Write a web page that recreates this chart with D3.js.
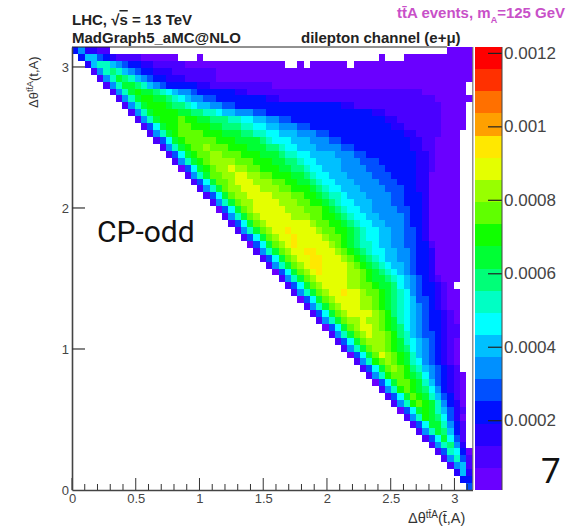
<!DOCTYPE html>
<html>
<head>
<meta charset="utf-8">
<script src="https://d3js.org/d3.v7.min.js"></script>
<style>
  body { margin: 0; background: white; }
  text { font-family: "Liberation Sans", sans-serif; }
</style>
</head>
<body>
<svg id="vis"></svg>
<script>
  // Data Setup
  // one string per row of the histogram, top row first, each starting on the diagonal cell
  // every char is the colour band (base 36), '.' = empty bin
  var rowLevels = [
    '352211......................................................0000',
    '3664321111000000...0............................0...00000000000',
    '26886543322111110000000000000000..0.000000.0000000000000000000',
    '1589865433222111111100000000000000000000000000000000000000000',
    '158a98654332221111100000000000000000000000000000000000000000',
    '158aa9865433333221111111111' + '0000000000000000000000000000000',
    '158abaa9876554333333221111111111111111111111111111' + '0000000',
    '158abbaa9876554433333333221111111111111111111111111' + '000000',
    '158abbba99876655443333333333333333322' + '111111111111110000',
    '158abbbbaa9988766555443333333333333333322' + '1111111110000',
    '158abbbcbbaa9998877665544333333333333333221111111' + '0000',
    '147abbccbbbaa99988776655544333333333333322111111' + '0000',
    '158abccccbbbaaa99887766655544333333333333221111' + '000',
    '147abcccccbbbaaaa9877766655544333333333332211' + '0000',
    '158abccdcccbbbaaa99877666555544333333333' + '22110000',
    '147abccddcccbbbaaa988776666555443333333322' + '10000',
    '158abcddddcccbbbaa998776666555444333333' + '2210000',
    '047abcddeddccbbbaa99877666555544433333' + '2210000',
    '158accddeeddccbbbaa987766655554443333' + '2200000',
    '147accdeeedddccbbaa98776665555444333' + '2200000',
    '158acddeeedddccbbba98776665555444' + '332200000',
    '147acddeeeedddccbba9887666555544' + '333200000',
    '158acddeeeedddccbba987766655544' + '333200000',
    '047acdeeeeedddcccba987766555544' + '33200000',
    '158acdeeeeedddccbba98776655554' + '33200000',
    '147acdeeeeeeedccbba9877665554332' + '00000',
    '158acdeefeeeedccbba987766554432' + '00000',
    '147acdeefeeeedccba987766554432' + '00000',
    '047acdefeeeeedcba9887665544331' + '0000',
    '158acdeeffeeedcba987766554332' + '0000',
    '147acdeeffeeedcba98766554332' + '0000',
    '158acdeffeeeedcba9876654332' + '0000',
    '047acdefeeeeddcba987654332' + '0000',
    '158acdeeeeeddcbaa987654321000',
    '147acdeeeeddccbaa9765433210.',
    '158acdeefeedccba98754332100',
    '047acdeeeeddcba98764432100',
    '158acdeeeddcba98765432100',
    '147acdeeeedcb98765433210',
    '158acddeddcba8765433210',
    '047acdeedcba9765433211',
    '158acdeddcb9865443211',
    '147acdddcba876543210',
    '158acddcba976543210',
    '047acedcba86543210',
    '158bcdcba87543210',
    '147acdcb98654321',
    '158bccba97543210',
    '047accba8643210',
    '158bcba9753210',
    '147acba864310',
    '158bcba85320',
    '047aba86421',
    '158ba97420',
    '147aa8531',
    '158a9631',
    '147a741',
    '158952',
    '148730',
    '15841',
    '1561',
    '262',
    '33',
    '4'
  ];

  var xTickValues = [0, 0.5, 1, 1.5, 2, 2.5, 3];
  var xMinorValues = [0.1, 0.2, 0.3, 0.4, 0.6, 0.7, 0.8, 0.9, 1.1, 1.2, 1.3, 1.4, 1.6, 1.7, 1.8, 1.9, 2.1, 2.2, 2.3, 2.4, 2.6, 2.7, 2.8, 2.9, 3.1];
  var yTickValues = [0, 1, 2, 3];
  var zTickValues = [0.0002, 0.0004, 0.0006, 0.0008, 0.001, 0.0012];
  var zRange = [0.00001, 0.001216];

  var bandColors = ['#6a00ff', '#4a00ff', '#2600ff', '#0010ff', '#0050ff', '#0090ff', '#00c0ff', '#00ffff', '#00ffc4', '#00ff78',
                    '#00ff34', '#10ff00', '#60ff00', '#98ff00', '#e4ff00', '#ffe800', '#ffa000', '#ff7000', '#ff3000', '#ff0000'];

  // SVG Setup
  var svg = d3.select('#vis')
    .attr('width', 566)
    .attr('height', 526);

  var xscale = d3.scaleLinear().domain([0, Math.PI]).range([72, 472.5]);
  var yscale = d3.scaleLinear().domain([0, Math.PI]).range([490, 47]);
  var colBand = d3.scaleBand().domain(d3.range(64)).range([72, 472.5]);
  var rowBand = d3.scaleBand().domain(d3.range(64)).range([47, 490]);
  var color = d3.scaleQuantize().domain(zRange).range(bandColors);
  var zscale = d3.scaleLinear().domain(zRange).range([490, 47]);

  // turn the band chars into bin contents
  var zStep = (zRange[1] - zRange[0]) / bandColors.length;
  var cells = [];
  rowLevels.forEach(function(row, r) {
    row.split('').forEach(function(ch, k) {
      if (ch == '.') return;
      cells.push({ col: r + k, row: r, value: zRange[0] + (parseInt(ch, 36) + 0.5) * zStep });
    });
  });

  // Histogram cells
  svg.append('g')
    .attr('shape-rendering', 'crispEdges')
    .style('filter', 'blur(0.4px)')
    .selectAll('rect')
    .data(cells)
    .enter().append('rect')
    .attr('x', function(d) { return colBand(d.col) })
    .attr('y', function(d) { return rowBand(d.row) })
    .attr('width', colBand.bandwidth())
    .attr('height', rowBand.bandwidth())
    .attr('fill', function(d) { return color(d.value) });

  // Frame
  svg.append('line').attr('x1', 72).attr('x2', 447).attr('y1', 47).attr('y2', 47).attr('stroke', '#222').attr('stroke-width', 1);
  svg.append('line').attr('x1', 472.8).attr('x2', 472.8).attr('y1', 47).attr('y2', 490).attr('stroke', '#777').attr('stroke-width', 1.2);

  // X axis
  var xAxis = svg.append('g')
    .attr('transform', 'translate(0,490)')
    .call(d3.axisBottom(xscale).tickValues(xTickValues).tickSize(0).tickPadding(4).tickFormat(d3.format('')));
  xAxis.select('.domain').attr('stroke', '#444').attr('stroke-width', 1.6);
  xAxis.selectAll('text').attr('fill', '#444').style('font-size', '13px');
  svg.selectAll('line.xmajor').data(xTickValues).enter().append('line').attr('class', 'xmajor')
    .attr('x1', xscale).attr('x2', xscale).attr('y1', 490).attr('y2', 478).attr('stroke', '#333');
  svg.selectAll('line.xminor').data(xMinorValues).enter().append('line').attr('class', 'xminor')
    .attr('x1', xscale).attr('x2', xscale).attr('y1', 490).attr('y2', 484).attr('stroke', '#333');

  // Y axis
  var yAxis = svg.append('g')
    .attr('transform', 'translate(72,0)')
    .call(d3.axisLeft(yscale).tickValues(yTickValues).tickSize(0).tickPadding(3).tickFormat(d3.format('')));
  yAxis.select('.domain').attr('stroke', '#444').attr('stroke-width', 1.6);
  yAxis.selectAll('text').attr('fill', '#444').style('font-size', '13px');
  svg.selectAll('line.ymajor').data(yTickValues.slice(1)).enter().append('line').attr('class', 'ymajor')
    .attr('x1', 72).attr('x2', 85).attr('y1', yscale).attr('y2', yscale).attr('stroke', '#333').attr('stroke-width', 1.2);

  // Palette
  svg.append('g')
    .attr('shape-rendering', 'crispEdges')
    .selectAll('rect')
    .data(bandColors)
    .enter().append('rect')
    .attr('x', 475)
    .attr('width', 27)
    .attr('y', function(d) { return zscale(color.invertExtent(d)[1]) })
    .attr('height', function(d) { return zscale(color.invertExtent(d)[0]) - zscale(color.invertExtent(d)[1]) })
    .attr('fill', function(d) { return d });

  var zAxis = svg.append('g')
    .attr('transform', 'translate(502,0)')
    .call(d3.axisLeft(zscale).tickValues(zTickValues).tickSize(-13).tickPadding(0).tickFormat(d3.format('')));
  zAxis.select('.domain').remove();
  svg.append('line').attr('x1', 502).attr('x2', 502).attr('y1', 47).attr('y2', 490).attr('stroke', '#444');
  zAxis.selectAll('.tick line').attr('x1', 0).attr('x2', -14).attr('stroke', '#222').attr('stroke-width', 1.2);
  zAxis.selectAll('text')
    .attr('text-anchor', 'start')
    .attr('x', 2)
    .attr('fill', '#444')
    .style('font-size', '17px');

  // Labels
  function addText(x, y, size, weight, fill, parts) {
    var t = svg.append('text').attr('x', x).attr('y', y)
      .style('font-size', size + 'px').style('font-weight', weight).attr('fill', fill);
    parts.forEach(function(p) {
      var s = t.append('tspan').text(p.text);
      if (p.dy) s.attr('dy', p.dy);
      if (p.size) s.style('font-size', p.size + 'px');
      if (p.over) s.style('text-decoration', 'overline');
    });
    return t;
  }

  addText(72, 25, 15, 'bold', '#222', [{ text: 'LHC,  √' }, { text: 's', over: true }, { text: ' = 13 TeV' }]);
  addText(72, 43, 15, 'bold', '#222', [{ text: 'MadGraph5_aMC@NLO' }]);
  addText(301, 43, 15, 'bold', '#222', [{ text: 'dilepton channel (e+μ)' }]);
  addText(397, 18, 15, 'bold', '#c850c8', [
    { text: 'tt\u0304A events, m' }, { text: 'A', size: 9, dy: 5 }, { text: '=125 GeV', dy: -5 }
  ]);

  addText(97, 242, 30, 'normal', '#111', [{ text: 'CP-odd' }]).style('font-family', 'Roboto');
  addText(541, 483, 35, 'normal', '#111', [{ text: '7' }]).style('font-family', 'Roboto');

  addText(408, 523, 14.5, 'normal', '#333', [
    { text: 'Δθ' }, { text: 'tt\u0304A', size: 10, dy: -5 }, { text: '(t\u0304,A)', dy: 5 }
  ]);
  addText(0, 0, 13, 'normal', '#333', [
    { text: 'Δθ' }, { text: 'tt\u0304A', size: 9, dy: -5 }, { text: '(t,A)', dy: 5 }
  ]).attr('transform', 'translate(38,108) rotate(-90)');
</script>
</body>
</html>
